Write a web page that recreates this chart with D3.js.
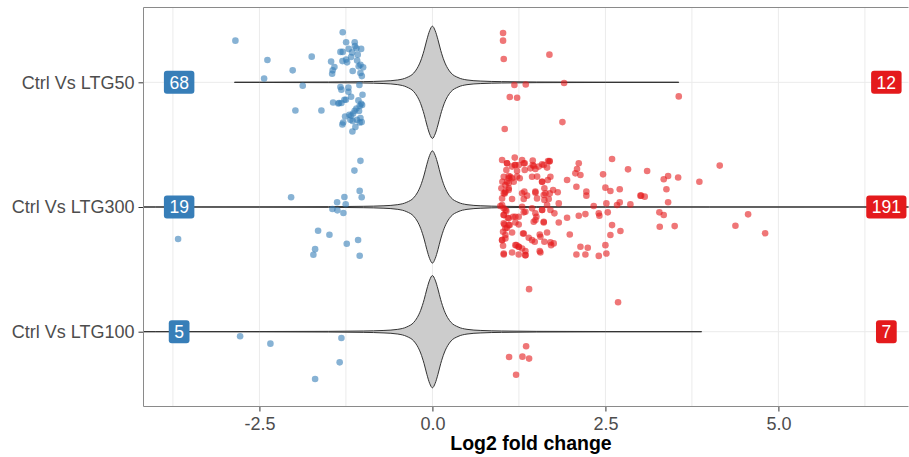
<!DOCTYPE html>
<html>
<head>
<meta charset="utf-8">
<script src="https://cdnjs.cloudflare.com/ajax/libs/d3/7.8.5/d3.min.js"></script>
<style>
    html, body { margin: 0; padding: 0; background: #fff; }
    svg { display: block; font-family: "Liberation Sans", Arial, sans-serif; }
</style>
</head>
<body>
<svg id="chart" width="909" height="457"></svg>
<script>
'use strict';

var categories = ['Ctrl Vs LTG50', 'Ctrl Vs LTG300', 'Ctrl Vs LTG100'];
var xTicks = [-2.5, 0, 2.5, 5];
var xMinorTicks = [-3.75, -1.25, 1.25, 3.75, 6.25];

var downCounts = [68, 19, 5];
var upCounts = [12, 191, 7];

// violin extent of all genes per comparison
var violinMin = [-2.86, -4.6, -4.4];
var violinMax = [3.56, 7.2, 3.89];
// relative density (|log2FC| -> width)
var densityOffset = [0, 0.04, 0.08, 0.12, 0.17, 0.22, 0.27, 0.37, 0.5, 0.7, 1.0, 1.5, 2.5, 4, 8];
var densityValue = [1, 0.92, 0.76, 0.57, 0.38, 0.25, 0.165, 0.085, 0.042, 0.022, 0.012, 0.006, 0.003, 0.0015, 0.001];

// [log2 fold change, jitter]
var downLTG50 = [
    [-2.847, -0.334], [-2.384, -0.179], [-2.432, -0.031], [-2.019, -0.096], [-1.744, -0.206],
    [-1.874, 0.027], [-1.980, 0.226], [-1.604, 0.226], [-1.296, -0.401], [-1.247, -0.321],
    [-1.123, -0.321], [-1.329, -0.244], [-1.296, -0.244], [-1.210, -0.268], [-1.098, -0.273],
    [-1.030, -0.268], [-1.079, -0.222], [-1.175, -0.203], [-1.247, -0.182], [-1.233, -0.160],
    [-1.088, -0.174], [-1.464, -0.166], [-1.416, -0.123], [-1.441, -0.096], [-1.449, -0.069],
    [-1.152, -0.091], [-1.065, -0.128], [-1.001, -0.120], [-1.040, -0.075], [-1.055, 0.022],
    [-1.329, 0.038], [-1.214, 0.043], [-1.315, 0.059], [-1.214, 0.076], [-1.175, 0.116],
    [-1.272, 0.140], [-1.435, 0.162], [-1.348, 0.166], [-1.315, 0.166], [-1.069, 0.145],
    [-1.030, 0.172], [-1.016, 0.182], [-1.098, 0.210], [-1.123, 0.228], [-1.146, 0.250],
    [-1.175, 0.268], [-1.262, 0.274], [-1.040, 0.287], [-1.185, 0.301], [-1.152, 0.311],
    [-1.051, 0.322], [-1.022, 0.319], [-1.290, 0.322], [-1.301, 0.338], [-1.113, 0.359],
    [-1.156, 0.395], [-1.020, -0.050], [-1.050, 0.190], [-1.120, -0.290], [-1.200, 0.260],
    [-1.010, 0.100], [-1.300, -0.170], [-1.090, 0.300], [-1.160, -0.240], [-1.040, -0.140],
    [-1.250, 0.140], [-1.360, 0.170], [-1.060, 0.230]
];
var upLTG50 = [
    [1.021, -0.396], [1.021, -0.334], [1.031, -0.187], [1.691, -0.222], [1.185, 0.022],
    [1.349, 0.017], [1.903, 0.006], [1.118, 0.118], [1.224, 0.124], [1.045, 0.375],
    [1.879, 0.319], [3.560, 0.113]
];
var downLTG300 = [
    [-1.040, -0.370], [-1.127, -0.292], [-1.051, -0.129], [-1.022, -0.078], [-1.272, -0.080],
    [-1.377, -0.038], [-1.253, -0.022], [-1.445, 0.016], [-1.373, 0.027], [-1.286, 0.048],
    [-2.042, -0.078], [-3.675, 0.257], [-1.652, 0.190], [-1.488, 0.223], [-1.238, 0.295],
    [-1.074, 0.265], [-1.695, 0.338], [-1.720, 0.383], [-1.051, 0.391]
];
var upLTG300 = [
    [1.007, -0.377], [1.079, -0.351], [1.190, -0.396], [1.199, -0.337], [1.296, -0.377],
    [1.320, -0.351], [1.450, -0.372], [1.450, -0.337], [1.536, -0.324], [1.585, -0.343],
    [1.671, -0.369], [1.695, -0.369], [1.657, -0.316], [2.115, -0.351], [2.090, -0.305],
    [2.139, -0.257], [2.066, -0.270], [2.596, -0.385], [2.827, -0.302], [1.069, -0.297],
    [1.151, -0.324], [1.223, -0.289], [1.334, -0.297], [1.416, -0.310], [1.488, -0.305],
    [1.127, -0.243], [1.031, -0.243], [1.011, -0.203], [1.103, -0.230], [1.175, -0.203],
    [1.262, -0.230], [1.440, -0.243], [1.585, -0.203], [1.705, -0.243], [1.667, -0.217],
    [1.946, -0.217], [2.081, -0.163], [2.466, -0.262], [2.500, -0.155], [2.572, -0.128],
    [2.707, -0.142], [2.225, -0.123], [2.225, -0.091], [3.006, -0.091], [0.997, -0.150],
    [1.055, -0.176], [1.103, -0.150], [1.045, -0.109], [1.007, -0.069], [1.151, -0.064],
    [1.329, -0.123], [1.368, -0.091], [1.320, -0.064], [1.488, -0.123], [1.512, -0.069],
    [1.618, -0.150], [1.609, -0.096], [1.695, -0.109], [1.744, -0.136], [1.811, -0.118],
    [1.618, -0.056], [1.826, -0.029], [1.681, -0.064], [2.331, -0.008], [2.514, -0.029],
    [2.668, -0.016], [2.707, -0.037], [2.861, -0.021], [2.115, 0.070], [2.211, 0.057],
    [2.404, 0.051], [2.413, 0.070], [2.534, 0.043], [1.007, -0.016], [1.031, 0.011],
    [0.982, -0.008], [1.069, 0.033], [1.031, 0.065], [1.088, 0.086], [1.166, 0.078],
    [1.247, 0.078], [1.199, 0.124], [1.296, -0.002], [1.320, 0.043], [1.440, 0.011],
    [1.488, 0.051], [1.503, 0.078], [1.585, 0.024], [1.657, -0.016], [1.705, 0.024],
    [1.763, 0.051], [1.609, 0.124], [1.464, 0.118], [1.826, 0.124], [1.946, 0.086],
    [1.040, 0.140], [1.117, 0.145], [1.247, 0.140], [1.079, 0.167], [1.021, 0.199],
    [1.055, 0.225], [1.151, 0.204], [1.310, 0.212], [1.392, 0.247], [1.440, 0.266],
    [1.551, 0.220], [1.657, 0.204], [1.561, 0.239], [1.479, 0.279], [1.618, 0.279],
    [1.715, 0.306], [1.753, 0.292], [1.985, 0.220], [1.007, 0.266], [1.021, 0.311],
    [1.214, 0.306], [1.247, 0.319], [1.296, 0.333], [1.344, 0.354], [1.551, 0.354],
    [1.561, 0.365], [1.705, 0.284], [1.031, 0.373], [1.151, 0.365], [1.247, 0.381],
    [1.344, 0.386], [2.081, 0.381], [2.139, 0.319], [2.245, 0.327], [2.211, 0.381],
    [2.404, 0.392], [2.514, 0.373], [2.500, 0.306], [2.572, 0.225], [2.596, 0.145],
    [2.717, 0.193], [3.103, -0.289], [3.343, -0.223], [3.406, -0.249], [3.551, -0.236],
    [3.382, -0.142], [3.016, -0.091], [3.068, -0.083], [3.406, -0.038], [3.280, 0.043],
    [3.343, 0.064], [3.285, 0.158], [3.501, 0.153], [3.858, -0.203], [4.152, -0.332],
    [4.562, 0.059], [4.379, 0.150], [4.808, 0.211], [1.079, -0.351], [1.190, -0.337],
    [1.248, -0.337], [1.334, -0.351], [1.464, -0.329], [1.609, -0.337], [1.691, -0.364],
    [1.103, -0.249], [1.151, -0.230], [1.224, -0.244], [1.079, -0.203], [1.103, -0.190],
    [1.513, -0.244], [1.585, -0.203], [1.055, -0.123], [1.103, -0.136], [1.031, -0.110],
    [1.296, -0.110], [1.489, -0.115], [1.633, -0.110], [1.055, 0.024], [1.344, 0.038],
    [1.585, 0.024], [1.031, 0.064], [1.103, 0.091], [1.199, 0.078], [1.489, 0.105],
    [1.609, 0.118], [1.031, 0.131], [1.103, 0.145], [1.055, 0.172], [1.320, 0.212],
    [1.007, 0.265], [1.055, 0.252], [1.199, 0.306], [1.248, 0.319], [1.031, 0.381],
    [1.344, 0.386]
];
var downLTG100 = [
    [-2.779, 0.037], [-2.341, 0.096], [-1.315, 0.051], [-1.340, 0.246], [-1.695, 0.380]
];
var upLTG100 = [
    [1.397, -0.341], [1.354, 0.117], [1.108, 0.203], [1.301, 0.200], [1.397, 0.216],
    [1.209, 0.345], [2.683, -0.236]
];

var downPoints = [downLTG50, downLTG300, downLTG100];
var upPoints = [upLTG50, upLTG300, upLTG100];
var downLabelX = -3.66;
var upLabelX = 6.56;

var colDown = '#377EB8',
    colUp = '#E41A1C';

var margin = { left: 143.5, right: 908.5, top: 7.5, bottom: 406.5 };

var svg, x, y, bandPx;

function init () {
    svg = d3.select('#chart');
    x = d3.scaleLinear().domain([-4.175, 6.88]).range([margin.left, margin.right]);
    y = d3.scalePoint().domain(categories)
        .range([margin.top, margin.bottom]).padding(0.6);
    bandPx = y.step();

    svg.append('defs').append('clipPath').attr('id', 'panelClip')
        .append('rect')
        .attr('x', margin.left).attr('y', margin.top)
        .attr('width', margin.right - margin.left)
        .attr('height', margin.bottom - margin.top);

    drawGrid();
    drawViolins();
    drawPoints();
    drawLabels();
    drawAxes();
}

function drawGrid () {
    var g = svg.append('g').attr('class', 'grid');
    g.selectAll('line.vx')
        .data(xTicks.concat(xMinorTicks))
        .enter().append('line')
        .attr('x1', function (d) { return x(d); })
        .attr('x2', function (d) { return x(d); })
        .attr('y1', margin.top).attr('y2', margin.bottom)
        .attr('stroke', '#ebebeb').attr('stroke-width', 1);
    g.selectAll('line.hy')
        .data(categories)
        .enter().append('line')
        .attr('x1', margin.left).attr('x2', margin.right)
        .attr('y1', function (d) { return y(d); })
        .attr('y2', function (d) { return y(d); })
        .attr('stroke', '#ebebeb').attr('stroke-width', 1);
}

function drawViolins () {
    var density = d3.scaleLinear().domain(densityOffset).range(densityValue).clamp(true);
    var halfMax = 0.45 * bandPx;
    var g = svg.append('g').attr('clip-path', 'url(#panelClip)');

    categories.forEach(function (cat, i) {
        var lo = violinMin[i], hi = violinMax[i];
        var vals = [lo, hi];
        densityOffset.forEach(function (o) {
            if (o > 0 && -o > lo) { vals.push(-o); }
            if (o < hi) { vals.push(o); }
        });
        vals.sort(d3.ascending);
        var cy = y(cat);
        var area = d3.area()
            .curve(d3.curveMonotoneX)
            .x(function (v) { return x(v); })
            .y0(function (v) { return cy - halfMax * density(Math.abs(v)); })
            .y1(function (v) { return cy + halfMax * density(Math.abs(v)); });
        g.append('path')
            .attr('d', area(vals))
            .attr('fill', '#cccccc')
            .attr('stroke', '#333333')
            .attr('stroke-width', 1);
    });
}

function drawPoints () {
    var g = svg.append('g').attr('clip-path', 'url(#panelClip)');
    function addSet (pts, cat, colour) {
        g.selectAll(null)
            .data(pts)
            .enter().append('circle')
            .attr('cx', function (d) { return x(d[0]); })
            .attr('cy', function (d) { return y(cat) + d[1] * bandPx; })
            .attr('r', 3.3)
            .attr('fill', colour)
            .attr('fill-opacity', 0.6);
    }
    categories.forEach(function (cat, i) {
        addSet(downPoints[i], cat, colDown);
        addSet(upPoints[i], cat, colUp);
    });
}

function drawLabels () {
    var g = svg.append('g');
    function addLabel (val, cat, text, colour) {
        var lg = g.append('g')
            .attr('transform', 'translate(' + x(val) + ',' + y(cat) + ')');
        var t = lg.append('text')
            .attr('text-anchor', 'middle')
            .attr('dy', '0.36em')
            .attr('fill', '#ffffff')
            .style('font-size', '17.5px')
            .text(text);
        var w = t.node().getComputedTextLength() + 11;
        lg.insert('rect', 'text')
            .attr('x', -w / 2).attr('y', -11.5)
            .attr('width', w).attr('height', 23)
            .attr('rx', 3).attr('ry', 3)
            .attr('fill', colour);
    }
    categories.forEach(function (cat, i) {
        addLabel(downLabelX, cat, downCounts[i], colDown);
        addLabel(upLabelX, cat, upCounts[i], colUp);
    });
}

function drawAxes () {
    var fmt = d3.format('.1f');
    var xAxis = d3.axisBottom(x).tickValues(xTicks)
        .tickSize(5).tickPadding(6)
        .tickFormat(function (d) { return fmt(d).replace('\u2212', '-'); });
    var yAxis = d3.axisLeft(y).tickSize(5).tickPadding(4);

    var gx = svg.append('g')
        .attr('transform', 'translate(0,' + margin.bottom + ')')
        .call(xAxis);
    var gy = svg.append('g')
        .attr('transform', 'translate(' + margin.left + ',0)')
        .call(yAxis);

    [gx, gy].forEach(function (g) {
        g.select('.domain').remove();
        g.selectAll('.tick line').attr('stroke', '#333333');
        g.selectAll('.tick text')
            .attr('fill', '#4d4d4d')
            .style('font-size', '18px')
            .style('font-family', '"Liberation Sans", Arial, sans-serif');
    });

    // panel border (left, top, bottom)
    svg.append('path')
        .attr('d', 'M' + margin.right + ',' + margin.top + 'H' + margin.left +
            'V' + margin.bottom + 'H' + margin.right)
        .attr('fill', 'none')
        .attr('stroke', '#8a8a8a')
        .attr('stroke-width', 1);

    svg.append('text')
        .attr('x', 531)
        .attr('y', 450)
        .attr('text-anchor', 'middle')
        .style('font-size', '19.5px')
        .style('font-weight', 'bold')
        .attr('fill', '#000')
        .text('Log2 fold change');
}

init();
</script>
</body>
</html>
